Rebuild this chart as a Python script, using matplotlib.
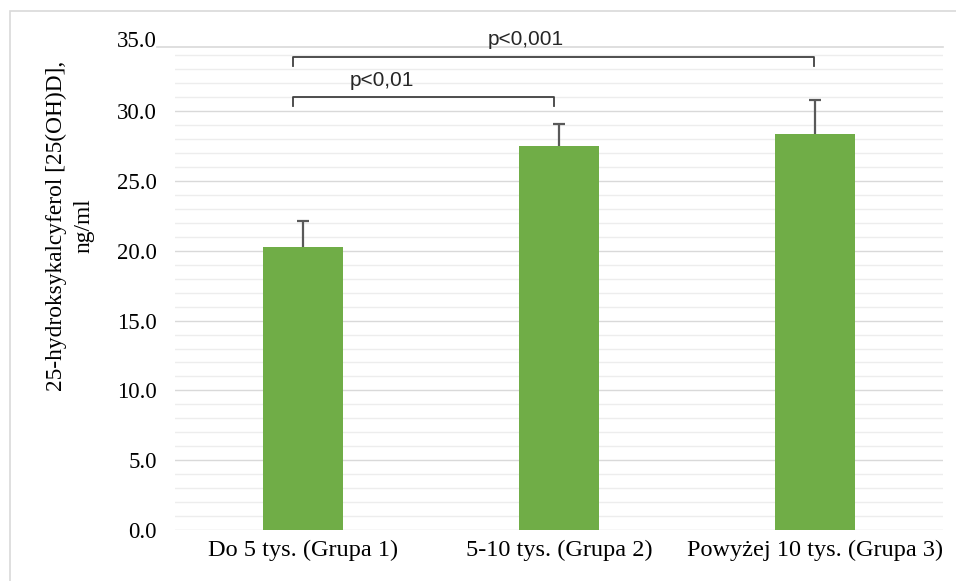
import numpy as np
import matplotlib
matplotlib.use("Agg")
from matplotlib import pyplot as plt
from matplotlib.patches import Rectangle

# mean 25(OH)D per income group, with the upper SD whisker
groups = ["Do 5 tys. (Grupa 1)", "5-10 tys. (Grupa 2)", "Powyżej 10 tys. (Grupa 3)"]
means = [20.3, 27.5, 28.4]
sd = [1.8, 1.6, 2.4]
y_ticks = [0, 5, 10, 15, 20, 25, 30, 35]

# significance brackets: (left group, right group, label)
brackets = [(0, 1, "p<0,01"), (0, 2, "p<0,001")]

W, H = 956, 581
fig = plt.figure(figsize=(W / 100, H / 100), dpi=100)
ax = fig.add_axes([175 / W, 1 - 530 / H, 768 / W, 483 / H])

serif = "Liberation Serif"
sans = "Liberation Sans"

x = np.arange(len(groups))
ax.bar(x, means, width=0.316, color="#70AD47", zorder=3)
_, caps, _ = ax.errorbar(x, means, yerr=[np.zeros(len(sd)), sd], fmt="none",
                         ecolor="#595959", elinewidth=1.6, capsize=4.3,
                         capthick=1.6, zorder=4)
caps[0].set_visible(False)  # whiskers go up only

ax.set_xlim(-0.5, 2.5)
ax.set_ylim(0, 34.6)

# gridlines: majors every 5, minors every 1
for v in np.arange(1, 35):
    if v % 5:
        ax.axhline(v, color="#EDEDED", lw=1, zorder=1)
for v in y_ticks[:-1]:
    ax.axhline(v, color="#D9D9D9", lw=1, zorder=2)
ax.plot([-0.57, 2.5], [34.6, 34.6], color="#D9D9D9", lw=1.2, clip_on=False, zorder=2)

ax.set_yticks(y_ticks[:-1])
ax.set_yticklabels([f"{v:.1f}" for v in y_ticks[:-1]], fontfamily=serif, fontsize=16.5)
ax.text(-0.57, y_ticks[-1], f"{y_ticks[-1]:.1f}", ha="right", va="center",
        fontfamily=serif, fontsize=16.5, clip_on=False)
ax.set_xticks(x)
ax.set_xticklabels(groups, fontfamily=serif, fontsize=17.5)
ax.tick_params(axis="y", length=0, pad=13)
ax.tick_params(axis="x", length=0, pad=7)
for s in ax.spines.values():
    s.set_visible(False)

fig.text(70 / W, 1 - 226 / H, "25-hydroksykalcyferol [25(OH)D],\nng/ml",
         rotation=90, ha="center", va="center", multialignment="center",
         fontfamily=serif, fontsize=16.8, linespacing=1.4)

levels = {(0, 1): (31.03, 30.37, 0.98), (0, 2): (33.9, 33.24, 1.996)}
for a, b, label in brackets:
    top, leg, xr = levels[(a, b)]
    xl = a - 0.04
    ax.plot([xl, xl, xr, xr], [leg, top, top, leg], color="#404040", lw=1.3,
            clip_on=False, zorder=5)
label_pos = {"p<0,01": (0.309, 32.2), "p<0,001": (0.871, 35.13)}
for _, _, label in brackets:
    lx, ly = label_pos[label]
    ax.text(lx, ly, label, ha="center", va="center", fontfamily=sans,
            fontsize=15, color="#262626", clip_on=False, zorder=6)

# light frame around the chart
fig.patches.append(Rectangle((10 / W, -0.05), 1.1, 1 - 11 / H + 0.05,
                             transform=fig.transFigure, fill=False,
                             edgecolor="#D9D9D9", lw=1.2))

fig.savefig("out.png", dpi=100)
